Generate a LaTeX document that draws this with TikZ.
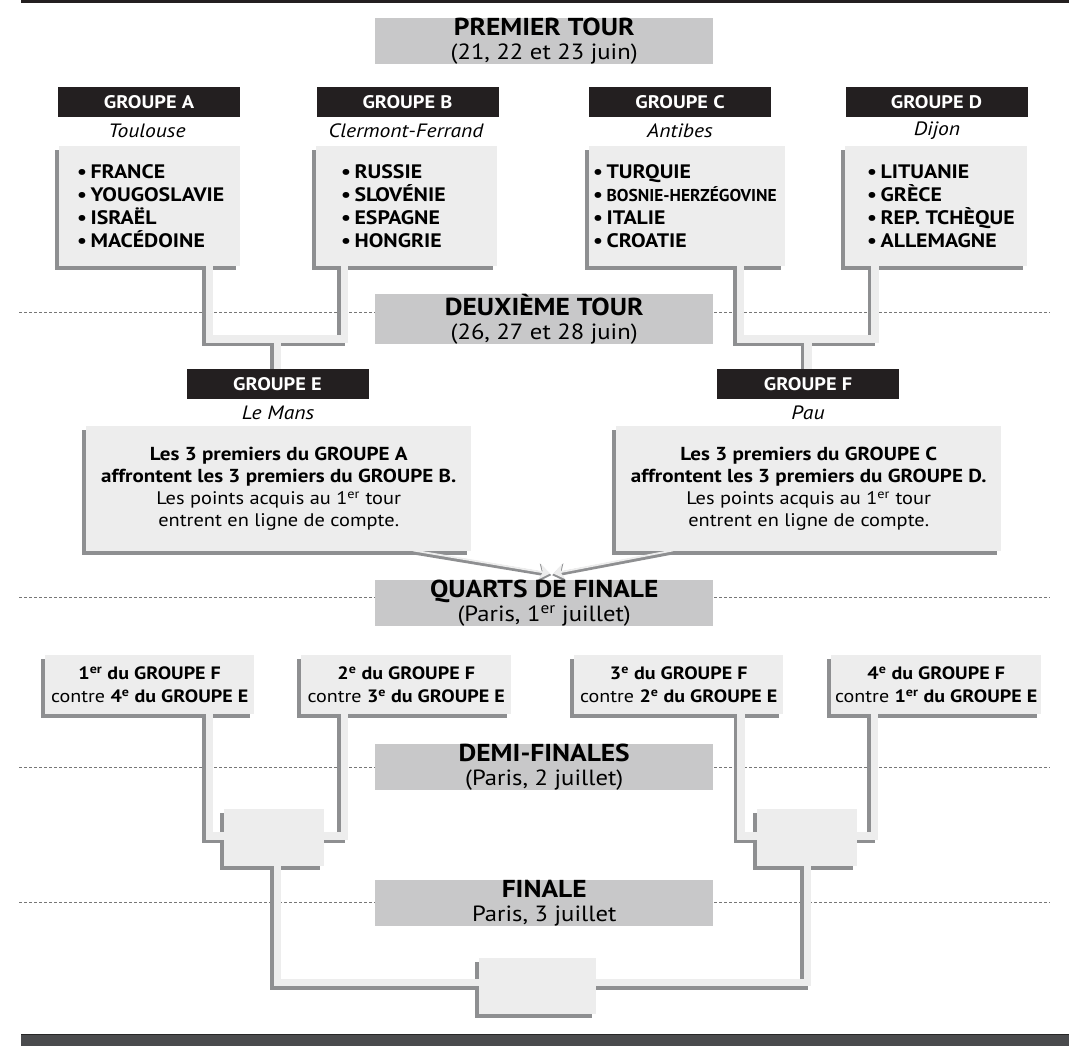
\documentclass[tikz,border=0pt]{standalone}
\usepackage{fontspec}
\setmainfont{PT Sans}[FakeStretch=1.12]
\usetikzlibrary{arrows.meta,calc}
\definecolor{bannergray}{HTML}{C8C8C9}
\definecolor{boxfill}{HTML}{EDEDED}
\definecolor{shadowgray}{HTML}{8E8F91}
\definecolor{headblack}{HTML}{231F20}
\definecolor{barcol}{HTML}{4A4B4D}
\definecolor{dotcol}{HTML}{777777}
\pgfdeclarelayer{layzero}\pgfdeclarelayer{layone}\pgfdeclarelayer{laytwo}\pgfdeclarelayer{laythree}
\pgfsetlayers{layzero,layone,laytwo,laythree,main}
\newcommand\boxshadow[1]{\begin{pgfonlayer}{layone}\fill[shadowgray] ([shift={(-4pt,-4pt)}]#1.south west) rectangle ([shift={(-4pt,-4pt)}]#1.north east);\end{pgfonlayer}}
\newcommand\connect[1]{\begin{pgfonlayer}{laytwo}\draw[connshadow] #1;\end{pgfonlayer}\begin{pgfonlayer}{laythree}\draw[connlight] #1;\end{pgfonlayer}}
\newcommand\bigb[1]{{\fontsize{24.5}{22}\selectfont\bfseries #1}}
\tikzset{
  banner/.style={fill=bannergray, minimum width=338pt, minimum height=46pt, inner sep=0pt, align=center, font=\fontsize{22}{23.5}\selectfont, anchor=north west},
  ghead/.style={fill=headblack, text=white, minimum width=182pt, minimum height=30pt, inner sep=0pt, font=\fontsize{18.2}{18}\selectfont\bfseries},
  city/.style={inner sep=0pt, font=\fontsize{19.3}{19}\selectfont\itshape},
  greybox/.style={fill=boxfill, inner sep=0pt, anchor=north west},
  teams/.style={inner sep=0pt, anchor=west, align=left, font=\fontsize{19.5}{23}\selectfont\bfseries},
  infotext/.style={inner sep=0pt, align=center, font=\fontsize{18.2}{22}\selectfont},
  qftext/.style={inner sep=0pt, align=center, font=\fontsize{17.9}{23}\selectfont},
  connshadow/.style={shadowgray, line width=7.5pt, transform canvas={shift={(-3.5pt,-3.5pt)}}},
  connlight/.style={boxfill, line width=7.5pt},
  dotline/.style={dotcol, line width=0.9pt, dash pattern=on 3pt off 2pt},
}
\newcommand\bul{•\kern3.5pt}
\begin{document}
\begin{tikzpicture}[x=1pt,y=-1pt]
\useasboundingbox (0,0) rectangle (1069,1046);
% top and bottom bars
\fill[headblack] (21,0) rectangle (1069,3);
\fill[barcol] (21,1034) rectangle (1069,1046);
\draw[black!85, line width=0.7pt] (21,1034.3) -- (1069,1034.3);
% dotted guide lines
\begin{pgfonlayer}{layzero}
\draw[dotline] (19,312) -- (1050,312);
\draw[dotline] (19,597) -- (1050,597);
\draw[dotline] (19,767) -- (1050,767);
\draw[dotline] (19,902) -- (1050,902);
\end{pgfonlayer}
% banners
\node[banner] (b1) at (375,18) {\bigb{PREMIER TOUR}\\(21, 22 et 23 juin)};
\node[banner] (b2) at (375,294) {\bigb{DEUXIÈME TOUR}\\(26, 27 et 28 juin)};
\node[banner] (b3) at (375,580) {\bigb{QUARTS DE FINALE}\\(Paris, 1\textsuperscript{er} juillet)};
\node[banner] (b4) at (375,744) {\bigb{DEMI-FINALES}\\(Paris, 2 juillet)};
\node[banner] (b5) at (375,880) {\bigb{FINALE}\\Paris, 3 juillet};
% group headers
\node[ghead] (gA) at (149,102) {GROUPE A};
\node[ghead] (gB) at (407.5,102) {GROUPE B};
\node[ghead] (gC) at (680,102) {GROUPE C};
\node[ghead] (gD) at (936.5,102) {GROUPE D};
\node[city] (cA) at (147,131) {Toulouse};
\node[city] (cB) at (406,131) {Clermont-Ferrand};
\node[city] (cC) at (680,131) {Antibes};
\node[city] (cD) at (937,131) {Dijon};
% team boxes
\node[greybox, minimum width=181pt, minimum height=120pt] (tA) at (59,146) {};
\node[greybox, minimum width=181pt, minimum height=120pt] (tB) at (316,146) {};
\node[greybox, minimum width=196pt, minimum height=120pt] (tC) at (589,146) {};
\node[greybox, minimum width=182pt, minimum height=120pt] (tD) at (845,146) {};
\boxshadow{tA}\boxshadow{tB}\boxshadow{tC}\boxshadow{tD}
\node[teams] (lA) at (77,206) {\bul FRANCE\\\bul YOUGOSLAVIE\\\bul ISRAËL\\\bul MACÉDOINE};
\node[teams] (lB) at (341,206) {\bul RUSSIE\\\bul SLOVÉNIE\\\bul ESPAGNE\\\bul HONGRIE};
\node[teams] (lC) at (593,206) {\bul TURQUIE\\\bul \scalebox{0.8}[0.88]{BOSNIE-HERZÉGOVINE}\\\bul ITALIE\\\bul CROATIE};
\node[teams] (lD) at (867,206) {\bul LITUANIE\\\bul GRÈCE\\\bul REP. TCHÈQUE\\\bul ALLEMAGNE};
% second round
\node[ghead] (gE) at (277.5,384) {GROUPE E};
\node[ghead] (gF) at (808,384) {GROUPE F};
\node[city] (cE) at (278,413) {Le Mans};
\node[city] (cF) at (808,413) {Pau};
\node[greybox, minimum width=385pt, minimum height=125pt] (iE) at (86,426) {};
\node[greybox, minimum width=385pt, minimum height=125pt] (iF) at (616,426) {};
\boxshadow{iE}\boxshadow{iF}
\node[infotext] (xE) at (iE.center) {{\fontsize{18.8}{22}\selectfont\bfseries Les 3 premiers du GROUPE A}\\{\fontsize{18.8}{22}\selectfont\bfseries affrontent les 3 premiers du GROUPE B.}\\Les points acquis au 1\textsuperscript{er} tour\\entrent en ligne de compte.};
\node[infotext] (xF) at (iF.center) {{\fontsize{18.8}{22}\selectfont\bfseries Les 3 premiers du GROUPE C}\\{\fontsize{18.8}{22}\selectfont\bfseries affrontent les 3 premiers du GROUPE D.}\\Les points acquis au 1\textsuperscript{er} tour\\entrent en ligne de compte.};
% junctions
\coordinate (jE) at (277.5,339);
\coordinate (jF) at (808,339);
\connect{([xshift=150.5pt]tA.south west) |- (jE) -| ([xshift=28.5pt]tB.south west)}
\connect{(jE) -- (gE.north)}
\connect{([xshift=151.5pt]tC.south west) |- (jF) -| ([xshift=30pt]tD.south west)}
\connect{(jF) -- (gF.north)}
% arrows to quarter finals
\begin{pgfonlayer}{laytwo}
\draw[shadowgray, line width=4pt, -{Stealth[length=13pt,width=19pt,inset=4pt]}, shorten >=-1pt] ([xshift=327pt,yshift=-1pt]iE.south west) -- ([xshift=6pt,yshift=5pt]b3.north);
\draw[shadowgray, line width=4pt, -{Stealth[length=13pt,width=19pt,inset=4pt]}, shorten >=-1pt] ([xshift=57pt,yshift=-1pt]iF.south west) -- ([xshift=9pt,yshift=5pt]b3.north);
\end{pgfonlayer}
\begin{pgfonlayer}{laythree}
\draw[boxfill, line width=1.8pt, -{Stealth[length=10.5pt,width=15pt,inset=3pt]}] ([xshift=327pt,yshift=1pt]iE.south west) -- ([xshift=6pt,yshift=6.5pt]b3.north);
\draw[boxfill, line width=1.8pt, -{Stealth[length=10.5pt,width=15pt,inset=3pt]}] ([xshift=57pt,yshift=1pt]iF.south west) -- ([xshift=9pt,yshift=6.5pt]b3.north);
\end{pgfonlayer}
% quarter finals
\node[greybox, minimum width=209pt, minimum height=59pt] (q1) at (45,655) {};
\node[greybox, minimum width=210pt, minimum height=59pt] (q2) at (301,655) {};
\node[greybox, minimum width=209pt, minimum height=59pt] (q3) at (574,655) {};
\node[greybox, minimum width=210pt, minimum height=59pt] (q4) at (831,655) {};
\boxshadow{q1}\boxshadow{q2}\boxshadow{q3}\boxshadow{q4}
\node[qftext] (y1) at (q1.center) {\textbf{1\textsuperscript{er} du GROUPE F}\\contre \textbf{4\textsuperscript{e} du GROUPE E}};
\node[qftext] (y2) at (q2.center) {\textbf{2\textsuperscript{e} du GROUPE F}\\contre \textbf{3\textsuperscript{e} du GROUPE E}};
\node[qftext] (y3) at (q3.center) {\textbf{3\textsuperscript{e} du GROUPE F}\\contre \textbf{2\textsuperscript{e} du GROUPE E}};
\node[qftext] (y4) at (q4.center) {\textbf{4\textsuperscript{e} du GROUPE F}\\contre \textbf{1\textsuperscript{er} du GROUPE E}};
% semi finals and final
\node[greybox, minimum width=100pt, minimum height=57pt] (s1) at (224,809) {};
\node[greybox, minimum width=100pt, minimum height=57pt] (s2) at (757,809) {};
\node[greybox, minimum width=117pt, minimum height=56pt] (fin) at (479,958) {};
\boxshadow{s1}\boxshadow{s2}\boxshadow{fin}
\connect{([xshift=164.5pt]q1.south west) |- ([yshift=1.5pt]s1.west)}
\connect{([xshift=43.5pt]q2.south west) |- ([yshift=1.5pt]s1.east)}
\connect{([xshift=167pt]q3.south west) |- ([yshift=1.5pt]s2.west)}
\connect{([xshift=43.5pt]q4.south west) |- ([yshift=1.5pt]s2.east)}
\connect{([xshift=3.5pt]s1.south) |- ([yshift=3.5pt]fin.west)}
\connect{([xshift=0.5pt]s2.south) |- ([yshift=3.5pt]fin.east)}
\end{tikzpicture}
\end{document}
